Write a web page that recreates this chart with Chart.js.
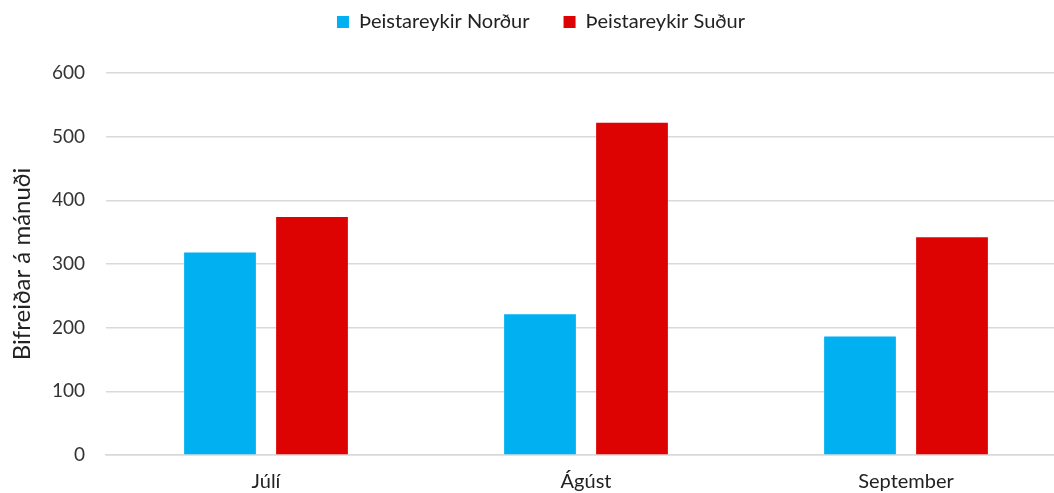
<!DOCTYPE html>
<html>
<head>
<meta charset="utf-8">
<script src="https://cdn.jsdelivr.net/npm/chart.js@4"></script>
<style>
    html, body { margin: 0; padding: 0; background: #fff; overflow: hidden; }
    #wrap { width: 1066px; height: 493px; }
</style>
</head>
<body>
<div id="wrap"><canvas id="chart" width="1066" height="493"></canvas></div>
<script>
// --- 資料 ---
const months = ['Júlí', 'Ágúst', 'September'];
const nordur = [318, 221, 186];
const sudur = [374, 522, 342];
const yTicks = [0, 100, 200, 300, 400, 500, 600];

const FONT = "Lato, 'Open Sans', sans-serif";
const GRID = '#d9d9d9';

// 圖例: 固定高度, 往上移
const legendFix = {
    id: 'legendFix',
    beforeInit(chart) {
        const lg = chart.legend;
        if (!lg) return;
        const origFit = lg.fit;
        lg.fit = function () {
            origFit.call(this);
            this.height = 65;
        };
        const origDraw = lg.draw;
        lg.draw = function () {
            const c = this.ctx;
            c.save();
            c.translate(8, -30);
            origDraw.call(this);
            c.restore();
        };
    }
};

const ctx = document.getElementById('chart').getContext('2d');
new Chart(ctx, {
    type: 'bar',
    data: {
        labels: months,
        datasets: [
            { label: 'Þeistareykir Norður', data: nordur, backgroundColor: '#00b0f0' },
            { label: 'Þeistareykir Suður', data: sudur, backgroundColor: '#dd0303' }
        ]
    },
    options: {
        responsive: false,
        animation: false,
        layout: { padding: { top: 8, left: 0, right: 0, bottom: 0 } },
        categoryPercentage: 0.575,
        barPercentage: 0.78,
        plugins: {
            legend: {
                position: 'top',
                align: 'center',
                labels: {
                    boxWidth: 12, boxHeight: 12, padding: 34,
                    color: '#222',
                    font: { family: FONT, size: 20 }
                }
            },
            tooltip: { enabled: false }
        },
        scales: {
            x: {
                grid: { display: false, drawTicks: false },
                border: { display: true, color: GRID, width: 1.5 },
                ticks: { color: '#222', padding: 15, font: { family: FONT, size: 20 } },
                afterFit: s => { s.height = 38; }
            },
            y: {
                min: 0, max: 600,
                afterBuildTicks: s => { s.ticks = yTicks.map(v => ({ value: v })); },
                grid: { color: GRID, lineWidth: 1.5, drawTicks: false },
                border: { display: false },
                ticks: { color: '#333', padding: 21, font: { family: FONT, size: 19 } },
                title: {
                    display: true, text: 'Bifreiðar á mánuði', color: '#222',
                    padding: { top: 8, bottom: 6 },
                    font: { family: FONT, size: 24 }
                },
                afterFit: s => { s.width = 106; }
            }
        }
    },
    plugins: [legendFix]
});
</script>
</body>
</html>
